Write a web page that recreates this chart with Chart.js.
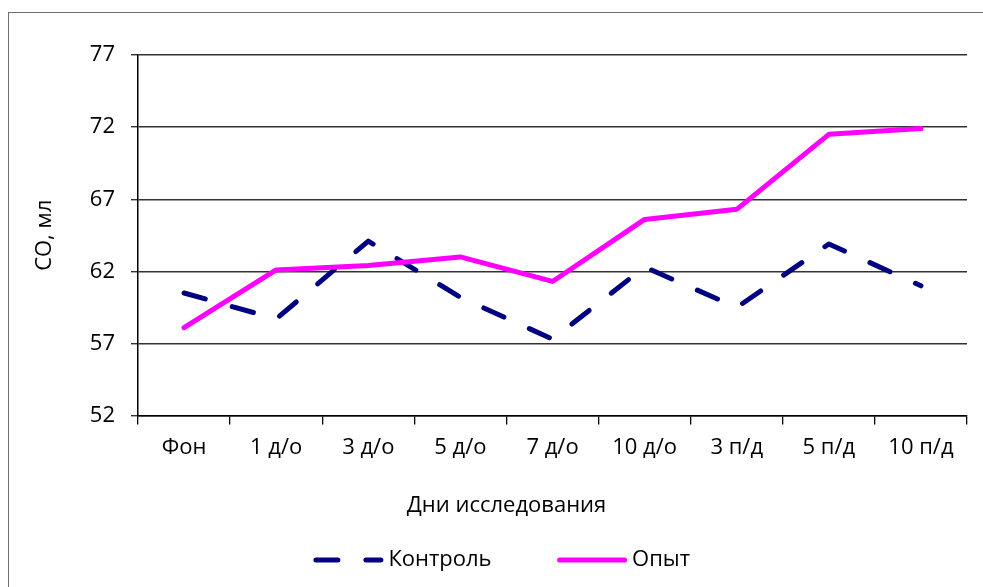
<!DOCTYPE html>
<html lang="ru">
<head>
<meta charset="utf-8">
<title>СО, мл — Дни исследования</title>
<script src="https://cdn.jsdelivr.net/npm/chart.js@4.4.1/dist/chart.umd.min.js"></script>
<style>
  html, body { margin: 0; padding: 0; background: #ffffff; overflow: hidden; }
  #frame {
    position: absolute; left: 8px; top: 12px; width: 1100px; height: 700px;
    border: 1.5px solid #6e6e6e; box-sizing: border-box;
  }
  #wrap { position: absolute; left: 0; top: 0; width: 983px; height: 587px; }
</style>
</head>
<body>
<div id="frame"></div>
<div id="wrap"><canvas id="chart" width="983" height="587"></canvas></div>
<script>
// Study days (x-axis categories)
const categories = ['Фон', '1 д/о', '3 д/о', '5 д/о', '7 д/о', '10 д/о', '3 п/д', '5 п/д', '10 п/д'];

// Stroke volume, ml
const controlValues    = [60.5, 58.7, 64.1, 60.2, 57.3, 62.3, 59.5, 63.9, 61.0];
const experimentValues = [58.1, 62.1, 62.4, 63.0, 61.3, 65.6, 66.3, 71.5, 71.9];

const seriesNames = ['Контроль', 'Опыт'];

// Value axis range
const yMin = 52;
const yMax = 77;
const yStep = 5;

const axisTitleY = 'СО, мл';
const axisTitleX = 'Дни исследования';

const FONT = "'Open Sans', 'DejaVu Sans', sans-serif";
Chart.defaults.font.family = FONT;
Chart.defaults.font.size = 22;
Chart.defaults.color = '#000000';

// Legend drawn below the x-axis title: line sample + label per dataset
const lineLegend = {
  id: 'lineLegend',
  afterDraw(chart, args, opts) {
    const ctx = chart.ctx;
    const ds = chart.data.datasets;
    const sampleW = opts.sampleWidth, textGap = opts.textGap, itemGap = opts.itemGap;
    ctx.save();
    ctx.font = `${opts.fontSize}px ${FONT}`;
    const widths = ds.map(d => sampleW + textGap + ctx.measureText(d.label).width);
    const total = widths.reduce((a, b) => a + b, 0) + itemGap * (ds.length - 1);
    let x = opts.centerX - total / 2;
    const y = opts.y;
    ds.forEach((d, i) => {
      ctx.beginPath();
      ctx.setLineDash(d.borderDash || []);
      ctx.lineDashOffset = 0;
      ctx.lineCap = d.borderCapStyle || 'butt';
      ctx.lineWidth = d.borderWidth;
      ctx.strokeStyle = d.borderColor;
      ctx.moveTo(x, y);
      ctx.lineTo(x + sampleW, y);
      ctx.stroke();
      ctx.setLineDash([]);
      ctx.fillStyle = '#000000';
      ctx.textAlign = 'left';
      ctx.textBaseline = 'middle';
      ctx.fillText(d.label, x + sampleW + textGap, y);
      x += widths[i] + itemGap;
    });
    ctx.restore();
  }
};

new Chart(document.getElementById('chart'), {
  type: 'line',
  data: {
    labels: categories,
    datasets: [
      {
        label: seriesNames[0],
        data: controlValues,
        borderColor: '#000080',
        backgroundColor: '#000080',
        borderWidth: 5,
        borderDash: [22, 28],
        borderCapStyle: 'round',
        borderJoinStyle: 'round',
        tension: 0,
        pointRadius: 0,
        order: 1
      },
      {
        label: seriesNames[1],
        data: experimentValues,
        borderColor: '#ff00ff',
        backgroundColor: '#ff00ff',
        borderWidth: 5,
        borderCapStyle: 'round',
        borderJoinStyle: 'round',
        tension: 0,
        pointRadius: 0,
        order: 0
      }
    ]
  },
  options: {
    responsive: false,
    animation: false,
    layout: { padding: { left: 30, right: 0, top: 55, bottom: 53 } },
    plugins: {
      legend: { display: false },
      tooltip: { enabled: false },
      title: {
        display: true,
        position: 'bottom',
        weight: 500,
        text: axisTitleX,
        color: '#000000',
        font: { family: FONT, size: 22, weight: 'normal' },
        padding: { top: 15, bottom: 15 }
      },
      lineLegend: { sampleWidth: 65, textGap: 7.5, itemGap: 68, fontSize: 22, centerX: 503, y: 560 }
    },
    scales: {
      x: {
        type: 'category',
        offset: true,
        grid: {
          offset: true,
          drawOnChartArea: false,
          drawTicks: true,
          tickLength: 9,
          color: '#000000',
          lineWidth: 1.3
        },
        border: { display: true, color: '#000000', width: 1.5 },
        ticks: { padding: 10, maxRotation: 0, autoSkip: false, color: '#000000', font: { size: 22 } },
        afterFit(scale) { scale.height = 62; }
      },
      y: {
        type: 'linear',
        position: 'left',
        min: yMin,
        max: yMax,
        ticks: { stepSize: yStep, padding: 16, color: '#000000', font: { size: 22 } },
        grid: { color: '#333333', lineWidth: 1.4, tickLength: 7, drawTicks: true },
        border: { display: true, color: '#000000', width: 1.5 },
        title: {
          display: true,
          text: axisTitleY,
          color: '#000000',
          font: { size: 22 },
          padding: { top: 2, bottom: 0 }
        },
        afterFit(scale) { scale.width = 108; }
      },
      yRight: {
        type: 'linear',
        position: 'right',
        display: true,
        grid: { display: false, drawTicks: false },
        border: { display: false },
        ticks: { display: false },
        afterFit(scale) { scale.width = 16; }
      }
    }
  },
  plugins: [lineLegend]
});
</script>
</body>
</html>
